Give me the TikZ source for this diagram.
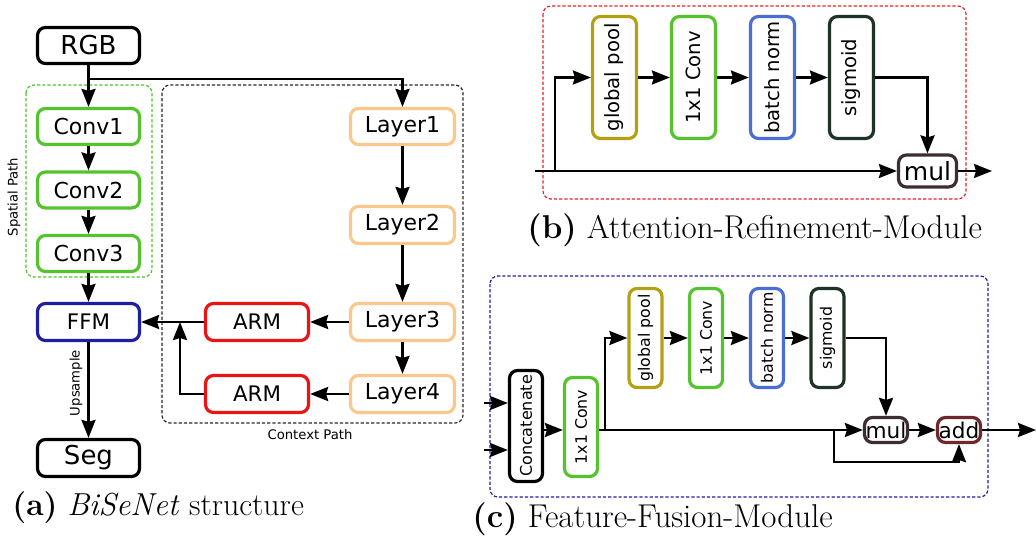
\documentclass[tikz,border=0pt]{standalone}
\usepackage{fontspec}
\usepackage{graphicx}
\usetikzlibrary{arrows.meta}
\newfontfamily\dv{DejaVu Sans}

\definecolor{cgreen}{RGB}{85,195,45}
\definecolor{corange}{RGB}{250,200,140}
\definecolor{cred}{RGB}{235,20,20}
\definecolor{cffm}{RGB}{30,30,160}
\definecolor{colive}{RGB}{180,160,20}
\definecolor{cbn}{RGB}{75,110,210}
\definecolor{csig}{RGB}{30,50,38}
\definecolor{cmul}{RGB}{60,45,52}
\definecolor{cadd}{RGB}{110,40,45}
\definecolor{dred}{RGB}{235,30,30}
\definecolor{dblue}{RGB}{30,30,170}
\definecolor{dgray}{RGB}{40,40,40}

\newcommand{\fs}[1]{\fontsize{#1}{#1}\selectfont}
\newcommand{\vt}[1]{\rotatebox{90}{#1}}

\tikzset{
  blk/.style={draw, rounded corners=4pt, line width=1.6pt, inner sep=0pt,
    fill=white, font=\dv\fs{11}, text=black},
  wideA/.style={blk, minimum width=51pt, minimum height=18pt},
  tallB/.style={blk, minimum width=22pt, minimum height=61pt, font=\dv\fs{9.8}},
  tallC/.style={blk, minimum width=16.5pt, minimum height=49.5pt, font=\dv\fs{7.9}},
  conn/.style={line width=1.3pt, -{Stealth[length=9pt,width=7pt,inset=1pt]}},
  groupframe/.style={dash pattern=on 1.6pt off 1pt, line width=0.6pt, rounded corners=4pt},
  tagtxt/.style={font=\dv\fs{6.6}, inner sep=0pt},
  captxt/.style={anchor=base west, inner sep=0pt}
}

\begin{document}
\begin{tikzpicture}[x=0.5pt, y=-0.5pt]
\useasboundingbox (0,0) rectangle (1036,545);

% ---------------- (a) BiSeNet ----------------
\draw[groupframe, cgreen] (26,85) rectangle (152,277);
\draw[groupframe, dgray] (162,85) rectangle (463,423);
\node[tagtxt, rotate=90] (spl) at (14,197) {Spatial Path};
\node[tagtxt] (cpl) at (310,435) {Context Path};

\node[wideA, font=\dv\fs{13}] (rgb) at (88.5,45.5) {RGB};
\node[wideA, draw=cgreen] (c1) at (88.5,126.5) {Conv1};
\node[wideA, draw=cgreen] (c2) at (88.5,190) {Conv2};
\node[wideA, draw=cgreen] (c3) at (88.5,253.5) {Conv3};
\node[wideA, draw=cffm, minimum height=18.5pt, font=\dv\fs{10.7}] (ffm) at (88.5,322) {FFM};
\node[wideA, minimum height=18.5pt, font=\dv\fs{13}] (seg) at (88.5,458) {Seg};

\node[wideA, draw=corange, minimum width=52pt] (l1) at (402.5,126.5) {Layer1};
\node[wideA, draw=corange, minimum width=52pt, minimum height=18.5pt] (l2) at (402.5,225) {Layer2};
\node[wideA, draw=corange, minimum width=52pt, minimum height=18.5pt] (l3) at (402.5,322) {Layer3};
\node[wideA, draw=corange, minimum width=52pt, minimum height=18.5pt] (l4) at (402.5,394) {Layer4};
\node[wideA, draw=cred, minimum width=51.5pt, minimum height=18.5pt, font=\dv\fs{10.7}] (arm1) at (257,322) {ARM};
\node[wideA, draw=cred, minimum width=51.5pt, minimum height=18.5pt, font=\dv\fs{10.7}] (arm2) at (257,394) {ARM};

\coordinate (split) at (88.5,79);
\coordinate (join) at (180,322);
\draw[conn] (rgb) -- (c1);
\draw[conn] (split) -| (l1.north);
\draw[conn] (c1) -- (c2);
\draw[conn] (c2) -- (c3);
\draw[conn] (c3) -- (ffm);
\draw[conn] (ffm) -- (seg);
\node[tagtxt, rotate=90] (ups) at (76,383) {Upsample};
\draw[conn] (l1) -- (l2);
\draw[conn] (l2) -- (l3);
\draw[conn] (l3) -- (l4);
\draw[conn] (l3) -- (arm1);
\draw[conn] (l4) -- (arm2);
\draw[conn] (arm1) -- (ffm);
\draw[conn] (arm2.west) -| (join);

\node[captxt, font=\fs{15.9}] (capa) at (12,515) {\textbf{(a)} \textit{BiSeNet} structure};

% ---------------- (b) Attention-Refinement-Module ----------------
\draw[groupframe, dred] (543,6) rectangle (966,199);
\node[tallB, draw=colive] (bgp) at (614.5,77.5) {\vt{global pool}};
\node[tallB, draw=cgreen] (bcv) at (693.5,77.5) {\vt{1x1 Conv}};
\node[tallB, draw=cbn] (bbn) at (772.5,77.5) {\vt{batch norm}};
\node[tallB, draw=csig] (bsg) at (851.5,77.5) {\vt{sigmoid}};
\node[blk, draw=cmul, minimum width=29pt, minimum height=16pt, font=\dv\fs{12.5}] (bmul) at (927.5,171) {mul};

\coordinate (bin) at (535,171);
\coordinate (bsp) at (555,171);
\coordinate (bout) at (992,171);
\draw[conn] (bin) -- (bmul);
\draw[conn] (bsp) |- (bgp.west);
\draw[conn] (bgp) -- (bcv);
\draw[conn] (bcv) -- (bbn);
\draw[conn] (bbn) -- (bsg);
\draw[conn] (bsg.east |- bgp) -| (bmul.north);
\draw[conn] (bmul) -- (bout);

\node[captxt, font=\fs{16.5}] (capb) at (527,238) {\textbf{(b)} Attention-Refinement-Module};

% ---------------- (c) Feature-Fusion-Module ----------------
\draw[groupframe, dblue] (490,276) rectangle (988,497);
\node[tallC, minimum height=55.5pt, font=\dv\fs{8}] (cat) at (526,426) {\vt{Concatenate}};
\node[tallC, draw=cgreen] (ccv1) at (581,427) {\vt{1x1 Conv}};
\node[tallC, draw=colive] (cgp) at (645.5,338) {\vt{global pool}};
\node[tallC, draw=cgreen] (ccv2) at (706,338) {\vt{1x1 Conv}};
\node[tallC, draw=cbn] (cbn) at (767,338) {\vt{batch norm}};
\node[tallC, draw=csig] (csg) at (827.5,338) {\vt{sigmoid}};
\node[blk, draw=cmul, minimum width=21.5pt, minimum height=12.5pt, font=\dv\fs{10.8}] (cmul) at (886,430) {mul};
\node[blk, draw=cadd, minimum width=21.5pt, minimum height=12.5pt, font=\dv\fs{10.8}] (cadd) at (959,430) {add};

\coordinate (main) at (0,430);
\coordinate (in1) at (484,403);
\coordinate (in2) at (484,450);
\coordinate (csp) at (605,430);
\coordinate (skip) at (834,430);
\coordinate (skipb) at (834,462);
\coordinate (cout) at (1036,430);

\draw[conn] (in1) -- (in1 -| cat.west);
\draw[conn] (in2) -- (in2 -| cat.west);
\draw[conn] (cat.east |- main) -- (ccv1.west |- main);
\draw[conn] (ccv1.east |- main) -- (cmul.west);
\draw[conn] (csp) |- (cgp.west);
\draw[conn] (cgp) -- (ccv2);
\draw[conn] (ccv2) -- (cbn);
\draw[conn] (cbn) -- (csg);
\draw[conn] (csg.east) -| (cmul.north);
\draw[conn] (cmul) -- (cadd);
\draw[conn] (cadd) -- (cout);
\draw[conn] (skip) -- (skipb) -| (cadd.south);

\node[captxt, font=\fs{16.5}] (capc) at (472,527) {\textbf{(c)} Feature-Fusion-Module};
\end{tikzpicture}
\end{document}
